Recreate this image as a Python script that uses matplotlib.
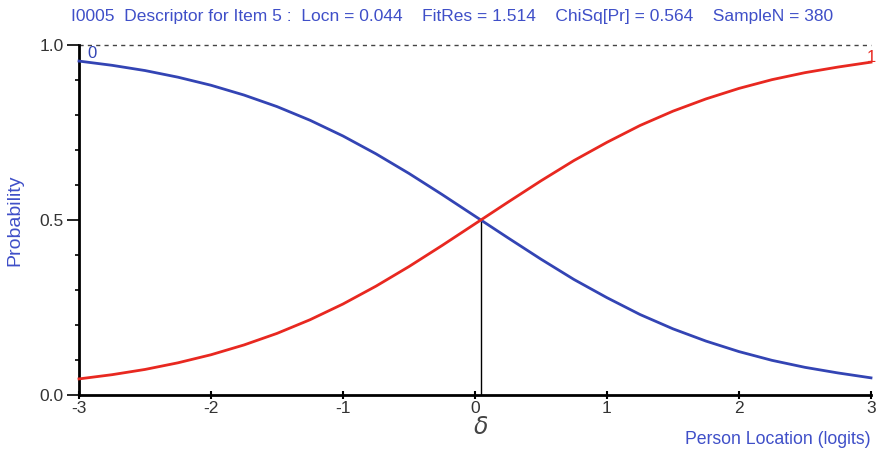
import matplotlib
matplotlib.use("Agg")
import matplotlib.pyplot as plt
from matplotlib.ticker import MultipleLocator

plt.rcParams["font.family"] = ["Liberation Sans", "DejaVu Sans"]

title = "I0005  Descriptor for Item 5 :  Locn = 0.044    FitRes = 1.514    ChiSq[Pr] = 0.564    SampleN = 380"
locn = 0.044

x_vals = [-3.0, -2.75, -2.5, -2.25, -2.0, -1.75, -1.5, -1.25, -1.0, -0.75, -0.5, -0.25,
          0.0, 0.25, 0.5, 0.75, 1.0, 1.25, 1.5, 1.75, 2.0, 2.25, 2.5, 2.75, 3.0]
p_score1 = [0.046, 0.058, 0.073, 0.092, 0.115, 0.143, 0.176, 0.215, 0.260, 0.311, 0.367, 0.427,
            0.489, 0.551, 0.612, 0.670, 0.722, 0.770, 0.811, 0.846, 0.876, 0.901, 0.921, 0.937, 0.951]
p_score0 = [0.954, 0.942, 0.927, 0.908, 0.885, 0.857, 0.824, 0.785, 0.740, 0.689, 0.633, 0.573,
            0.511, 0.449, 0.388, 0.330, 0.278, 0.230, 0.189, 0.154, 0.124, 0.099, 0.079, 0.063, 0.049]

blue = "#3344b4"
red = "#e82820"
txt_blue = "#3f4fc8"

fig = plt.figure(figsize=(8.79, 4.57), dpi=100)
ax = fig.add_axes([79/879, 1-395/457, (871-79)/879, (395-45)/457])
ax.set_xlim(-3, 3)
ax.set_ylim(0, 1)

ax.plot(x_vals, p_score0, color=blue, lw=2.0, clip_on=False, zorder=3)
ax.plot(x_vals, p_score1, color=red, lw=2.0, clip_on=False, zorder=4)
ax.plot([locn, locn], [0, 0.5], color="black", lw=1.0, zorder=2)
ax.plot([-3, 3], [1, 1], color="#444444", lw=1.0, ls=(0, (3, 3)), clip_on=False)

for s in ["top", "right"]:
    ax.spines[s].set_visible(False)
for s in ["left", "bottom"]:
    ax.spines[s].set_linewidth(2.0)
    ax.spines[s].set_color("black")

ax.set_xticks([-3, -2, -1, 0, 1, 2, 3])
ax.set_xticklabels(["-3", "-2", "-1", "0", "1", "2", "3"])
ax.set_yticks([0.0, 0.5, 1.0])
ax.set_yticklabels(["0.0", "0.5", "1.0"])
ax.yaxis.set_minor_locator(MultipleLocator(0.1))
ax.tick_params(axis="x", direction="inout", length=6, width=1.5, labelsize=12.5,
               labelcolor="#333333", pad=1)
ax.tick_params(axis="y", which="major", direction="out", length=9, width=1.2,
               labelsize=12.5, labelcolor="#333333", pad=2)
ax.tick_params(axis="y", which="minor", direction="out", length=3, width=1.2)

fig.text(452/879, 1-16/457, title, color=txt_blue, fontsize=12.5, ha="center", va="center")
fig.text(15/879, 1-220/457, "Probability", color=txt_blue, fontsize=14, rotation=90,
         ha="center", va="center")
fig.text(871/879, 1-440/457, "Person Location (logits)", color=txt_blue, fontsize=12.7,
         ha="right", va="center")
ax.text(locn, -0.095, r"$\delta$", color="#444444", fontsize=17, ha="center", va="center")
ax.text(-2.9, 0.975, "0", color=blue, fontsize=12, ha="center", va="center")
ax.text(3.0, 0.965, "1", color=red, fontsize=12, ha="center", va="center")

fig.savefig("out.png", dpi=100)
